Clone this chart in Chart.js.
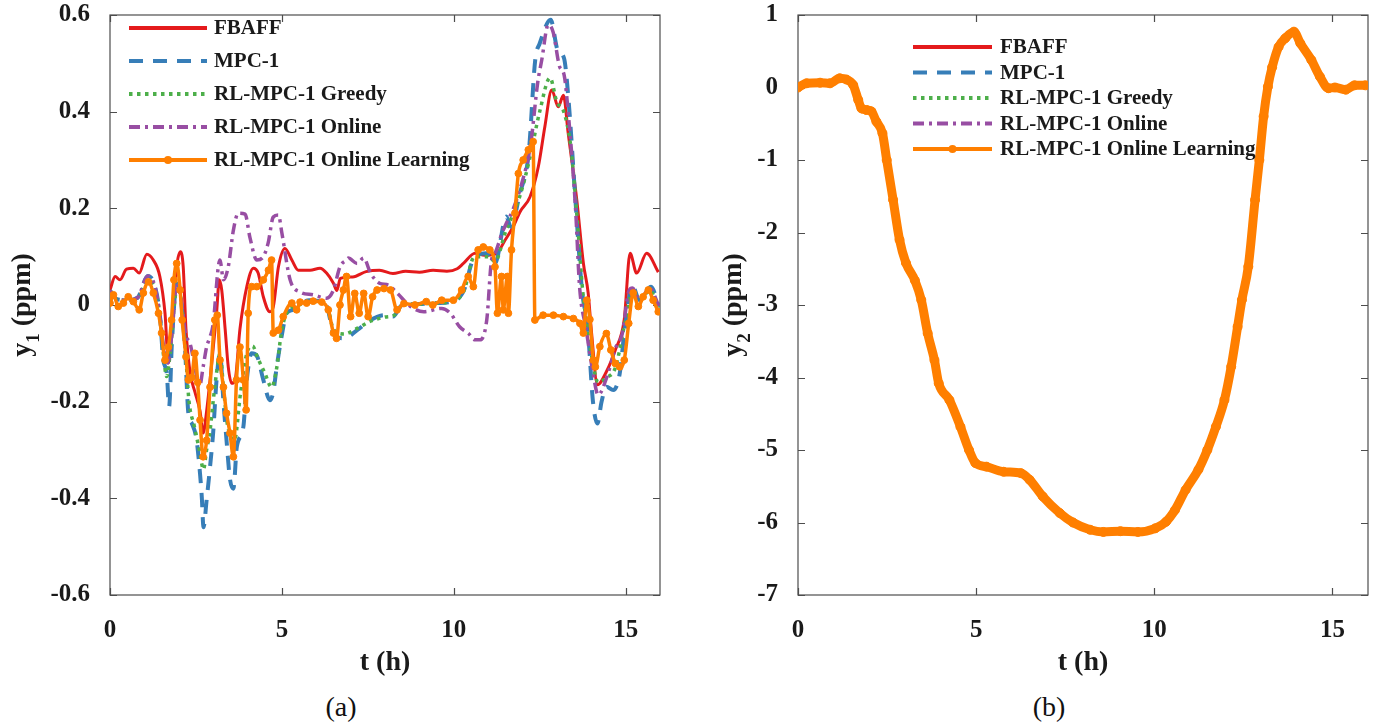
<!DOCTYPE html>
<html>
<head>
<meta charset="utf-8">
<title>y1 / y2 response</title>
<script src="https://cdn.jsdelivr.net/npm/chart.js@4.4.1/dist/chart.umd.min.js"></script>
<style>
  html, body { margin: 0; padding: 0; background: #fff; }
  body { width: 1383px; height: 725px; position: relative; overflow: hidden; font-family: "Liberation Serif", "Times New Roman", serif; }
  canvas { position: absolute; top: 0; }
  #chartY1 { left: 0; }
  #chartY2 { left: 690px; }
  .caption { position: absolute; top: 690px; width: 100px; text-align: center; font-size: 28px; line-height: 34px; color: #111; }
</style>
</head>
<body>
<canvas id="chartY1" width="690" height="690"></canvas>
<canvas id="chartY2" width="693" height="690"></canvas>
<div class="caption" style="left:291px">(a)</div>
<div class="caption" style="left:999px">(b)</div>

<script>
  // ---- data ---------------------------------------------------------------
  const seriesNames = ["FBAFF", "MPC-1", "RL-MPC-1 Greedy", "RL-MPC-1 Online", "RL-MPC-1 Online Learning"];
  const tTicks = [0, 5, 10, 15];
  const y1Ticks = [-0.6, -0.4, -0.2, 0, 0.2, 0.4, 0.6];
  const y2Ticks = [-7, -6, -5, -4, -3, -2, -1, 0, 1];

  // y1, FBAFF
  const fbaffT = [0, 0.15, 0.29, 0.48, 0.68, 0.85, 1.07, 1.26, 1.45, 1.6, 1.7, 1.79, 1.94, 2.05, 2.13, 2.21, 2.33, 2.47, 2.62, 2.71, 2.81, 2.96, 3.1, 3.18, 3.25, 3.35, 3.44, 3.54, 3.64, 3.78, 3.98, 4.17, 4.31, 4.46, 4.65, 4.75, 4.9, 5.09, 5.29, 5.48, 5.82, 6.11, 6.3, 6.5, 6.6, 6.7, 7.06, 7.45, 7.84, 8.23, 8.6, 9.0, 9.4, 9.8, 10.1, 10.28, 10.62, 10.9, 11.25, 11.49, 11.73, 11.93, 12.22, 12.46, 12.65, 12.85, 13.04, 13.19, 13.33, 13.58, 13.77, 13.91, 14.01, 14.18, 14.44, 14.7, 14.96, 15.13, 15.32, 15.61, 15.95];
  const fbaffY = [0.031, 0.059, 0.052, 0.074, 0.076, 0.066, 0.105, 0.093, 0.059, -0.017, -0.12, -0.066, 0.079, 0.11, 0.079, -0.05, -0.14, -0.18, -0.22, -0.265, -0.22, -0.12, -0.017, 0.052, 0.031, -0.05, -0.128, -0.162, -0.155, -0.05, 0.038, 0.076, 0.066, 0.017, -0.014, -0.004, 0.079, 0.117, 0.093, 0.072, 0.072, 0.076, 0.066, 0.045, 0.03, 0.055, 0.058, 0.069, 0.072, 0.065, 0.07, 0.068, 0.072, 0.07, 0.075, 0.086, 0.107, 0.103, 0.107, 0.134, 0.162, 0.193, 0.224, 0.286, 0.369, 0.445, 0.41, 0.434, 0.355, 0.217, 0.087, 0.025, -0.058, -0.165, -0.138, -0.093, -0.03, 0.107, 0.066, 0.107, 0.068];

  // y1, MPC-1
  const mpcT = [0, 0.2, 0.5, 0.8, 1.1, 1.3, 1.45, 1.55, 1.65, 1.72, 1.8, 1.94, 2.05, 2.18, 2.28, 2.38, 2.52, 2.62, 2.67, 2.72, 2.81, 2.91, 3.0, 3.1, 3.2, 3.3, 3.39, 3.49, 3.59, 3.69, 3.88, 3.98, 4.12, 4.27, 4.46, 4.65, 4.75, 4.85, 4.99, 5.14, 5.33, 5.5, 5.8, 6.1, 6.3, 6.5, 6.8, 7.19, 7.58, 7.97, 8.23, 8.5, 9.0, 9.5, 10.0, 10.3, 10.56, 10.95, 11.2, 11.53, 11.66, 11.92, 12.18, 12.37, 12.5, 12.82, 13.02, 13.21, 13.34, 13.54, 13.73, 13.9, 14.05, 14.18, 14.3, 14.44, 14.64, 14.83, 14.96, 15.2, 15.4, 15.74, 15.97];
  const mpcY = [0.03, 0.012, 0.01, 0.015, 0.06, 0.04, -0.02, -0.114, -0.14, -0.21, -0.08, 0.045, 0.02, -0.086, -0.224, -0.245, -0.28, -0.35, -0.397, -0.46, -0.404, -0.335, -0.265, -0.155, -0.1, -0.2, -0.28, -0.36, -0.38, -0.293, -0.252, -0.155, -0.1, -0.105, -0.155, -0.197, -0.18, -0.128, -0.066, -0.017, -0.01, 0.0, 0.01, 0.008, 0.0, -0.058, -0.069, -0.052, -0.031, -0.021, -0.024, 0.0, 0.002, 0.004, 0.008, 0.031, 0.093, 0.107, 0.086, 0.183, 0.162, 0.23, 0.314, 0.507, 0.541, 0.59, 0.528, 0.51, 0.424, 0.217, 0.031, -0.05, -0.2, -0.245, -0.2, -0.169, -0.176, -0.141, -0.059, 0.04, 0.01, 0.038, -0.003];

  // y1, RL-MPC-1 Greedy
  const greedyT = [0, 0.2, 0.5, 0.8, 1.1, 1.3, 1.45, 1.55, 1.65, 1.75, 1.94, 2.05, 2.18, 2.3, 2.45, 2.6, 2.72, 2.81, 2.91, 3.0, 3.1, 3.2, 3.3, 3.4, 3.5, 3.62, 3.8, 3.98, 4.15, 4.3, 4.5, 4.7, 4.85, 5.0, 5.2, 5.5, 5.8, 6.1, 6.3, 6.5, 6.8, 7.2, 7.6, 8.0, 8.3, 8.5, 9.0, 9.5, 10.0, 10.3, 10.6, 11.0, 11.2, 11.5, 11.9, 12.2, 12.5, 12.8, 13.0, 13.2, 13.4, 13.6, 13.75, 14.0, 14.2, 14.45, 14.7, 15.0, 15.2, 15.4, 15.7, 15.97];
  const greedyY = [0.03, 0.012, 0.01, 0.015, 0.05, 0.035, -0.02, -0.1, -0.148, -0.1, 0.03, 0.02, -0.08, -0.2, -0.25, -0.3, -0.34, -0.3, -0.26, -0.2, -0.14, -0.1, -0.17, -0.24, -0.27, -0.28, -0.18, -0.1, -0.085, -0.11, -0.14, -0.17, -0.13, -0.05, -0.01, 0.0, 0.008, 0.006, 0.0, -0.05, -0.06, -0.048, -0.033, -0.025, -0.02, 0.0, 0.002, 0.004, 0.008, 0.03, 0.1, 0.1, 0.09, 0.15, 0.22, 0.3, 0.4, 0.47, 0.42, 0.4, 0.33, 0.17, 0.03, -0.1, -0.16, -0.15, -0.13, -0.03, 0.03, 0.01, 0.03, -0.005];

  // y1, RL-MPC-1 Online
  const onlineT = [0, 0.2, 0.5, 0.8, 1.1, 1.3, 1.45, 1.55, 1.68, 1.8, 1.94, 2.05, 2.2, 2.33, 2.45, 2.6, 2.71, 2.81, 2.91, 3.0, 3.15, 3.2, 3.3, 3.44, 3.59, 3.73, 3.93, 4.07, 4.27, 4.46, 4.6, 4.75, 4.9, 5.0, 5.24, 5.53, 5.91, 6.3, 6.5, 6.69, 6.88, 6.93, 7.19, 7.38, 7.58, 7.84, 8.1, 8.36, 8.74, 9.13, 9.65, 9.9, 10.17, 10.43, 10.62, 10.76, 10.96, 11.1, 11.2, 11.4, 11.53, 11.72, 11.98, 12.24, 12.44, 12.56, 12.75, 12.89, 13.08, 13.21, 13.34, 13.54, 13.66, 13.85, 14.05, 14.2, 14.45, 14.7, 14.9, 15.1, 15.2, 15.4, 15.7, 15.97];
  const onlineY = [0.03, 0.012, 0.01, 0.015, 0.06, 0.04, -0.02, -0.08, -0.12, -0.06, 0.04, 0.02, -0.06, -0.08, -0.12, -0.17, -0.128, -0.087, -0.066, -0.04, 0.079, 0.093, 0.052, 0.079, 0.155, 0.19, 0.188, 0.14, 0.093, 0.1, 0.128, 0.182, 0.186, 0.149, 0.052, 0.027, 0.021, 0.014, 0.031, 0.079, 0.093, 0.097, 0.086, 0.097, 0.066, 0.045, 0.041, 0.024, -0.003, -0.014, -0.007, -0.017, -0.045, -0.059, -0.072, -0.072, -0.031, 0.093, 0.107, 0.148, 0.169, 0.197, 0.252, 0.334, 0.459, 0.507, 0.58, 0.565, 0.493, 0.476, 0.39, 0.203, 0.038, -0.05, -0.14, -0.186, -0.15, -0.09, -0.06, 0.03, 0.035, 0.01, 0.035, -0.003];

  // y1, RL-MPC-1 Online Learning
  const learnT = [0, 0.1, 0.24, 0.39, 0.53, 0.68, 0.85, 0.97, 1.12, 1.26, 1.41, 1.5, 1.6, 1.7, 1.79, 1.86, 1.94, 2.04, 2.1, 2.21, 2.28, 2.38, 2.47, 2.55, 2.62, 2.71, 2.81, 2.91, 3.05, 3.12, 3.2, 3.3, 3.39, 3.49, 3.59, 3.68, 3.78, 3.88, 3.96, 4.02, 4.12, 4.27, 4.46, 4.61, 4.7, 4.75, 4.9, 5.04, 5.29, 5.43, 5.53, 5.72, 5.91, 6.16, 6.35, 6.5, 6.59, 6.69, 6.79, 6.88, 7.0, 7.12, 7.25, 7.38, 7.51, 7.64, 7.77, 7.97, 8.16, 8.35, 8.55, 8.87, 9.2, 9.39, 9.65, 9.99, 10.23, 10.42, 10.57, 10.71, 10.86, 11.05, 11.2, 11.27, 11.39, 11.44, 11.56, 11.59, 11.68, 11.78, 11.88, 12.02, 12.17, 12.31, 12.36, 12.6, 12.9, 13.19, 13.48, 13.67, 13.77, 13.87, 13.96, 14.06, 14.12, 14.25, 14.44, 14.57, 14.7, 14.83, 14.96, 15.09, 15.22, 15.37, 15.51, 15.66, 15.8, 15.95];
  const learnY = [0.004, 0.021, -0.003, 0.004, 0.017, 0.007, -0.01, 0.025, 0.048, 0.025, -0.017, -0.058, -0.114, -0.087, -0.031, 0.052, 0.086, 0.031, -0.031, -0.107, -0.155, -0.15, -0.1, -0.16, -0.238, -0.314, -0.28, -0.17, -0.031, -0.021, -0.114, -0.17, -0.224, -0.265, -0.314, -0.155, -0.087, -0.155, -0.217, -0.017, 0.038, 0.038, 0.052, 0.072, 0.093, -0.058, -0.052, -0.024, 0.004, -0.01, 0.006, 0.004, 0.008, 0.006, -0.01, -0.058, -0.069, 0.0, 0.031, 0.059, -0.024, 0.024, -0.017, 0.024, -0.024, 0.017, 0.031, 0.034, 0.031, -0.01, 0.003, 0.0, 0.007, 0.0, 0.01, 0.01, 0.031, 0.059, 0.038, 0.114, 0.12, 0.114, 0.079, -0.017, 0.059, -0.01, 0.059, -0.017, 0.114, 0.19, 0.272, 0.3, 0.321, 0.338, -0.031, -0.021, -0.021, -0.024, -0.028, -0.038, -0.058, 0.01, -0.03, -0.114, -0.128, -0.086, -0.059, -0.093, -0.121, -0.128, -0.114, -0.038, 0.025, -0.003, 0.017, 0.031, 0.01, -0.014];

  // y2 (the five controllers give the same trajectory)
  const y2T = [0, 0.24, 0.62, 0.9, 1.17, 1.36, 1.55, 1.69, 1.78, 1.92, 2.06, 2.2, 2.37, 2.49, 2.67, 2.85, 3.03, 3.28, 3.46, 3.64, 3.83, 3.95, 4.25, 4.56, 4.8, 4.98, 5.29, 5.77, 6.26, 6.5, 6.87, 7.35, 7.72, 8.2, 8.57, 9.05, 9.54, 10.03, 10.33, 10.58, 10.88, 11.24, 11.49, 11.73, 11.97, 12.16, 12.34, 12.46, 12.64, 12.83, 12.95, 13.07, 13.19, 13.31, 13.49, 13.68, 13.92, 14.1, 14.41, 14.65, 14.89, 15.07, 15.38, 15.62, 15.93];
  const y2Y = [0.0, 0.058, 0.066, 0.058, 0.127, 0.11, 0.034, -0.17, -0.287, -0.31, -0.33, -0.47, -0.63, -1.0, -1.55, -2.1, -2.42, -2.66, -2.93, -3.39, -3.76, -4.08, -4.31, -4.68, -5.0, -5.18, -5.23, -5.3, -5.32, -5.41, -5.64, -5.87, -6.0, -6.1, -6.13, -6.12, -6.13, -6.08, -5.99, -5.83, -5.55, -5.27, -5.0, -4.68, -4.31, -3.85, -3.3, -2.93, -2.47, -1.55, -1.0, -0.4, 0.01, 0.28, 0.56, 0.68, 0.77, 0.61, 0.38, 0.15, -0.01, 0.0, -0.03, 0.03, 0.03];

  // ---- look ----------------------------------------------------------------
  const SERIF = '"Liberation Serif", "Times New Roman", serif';
  const INK = "#1a1a1a";
  const FRAME = "#4d4d4d";

  const lineStyles = [
    { borderColor: "#e41a1c", borderWidth: 3, borderDash: [] },
    { borderColor: "#377eb8", borderWidth: 4, borderDash: [14, 10] },
    { borderColor: "#4daf4a", borderWidth: 3.5, borderDash: [3.5, 4.5] },
    { borderColor: "#984ea3", borderWidth: 3.5, borderDash: [11, 5, 3, 5] },
    { borderColor: "#ff7f00", borderWidth: 3, borderDash: [], marker: true },
  ];

  function pairs(ts, vs) {
    return ts.map((t, i) => ({ x: t, y: vs[i] }));
  }

  function makeDatasets(seriesData, orangeWidth, markerRadius) {
    return seriesData.map((points, i) => {
      const s = lineStyles[i];
      return {
        label: seriesNames[i],
        data: points,
        showLine: true,
        borderColor: s.borderColor,
        backgroundColor: s.borderColor,
        borderWidth: s.marker ? orangeWidth : s.borderWidth,
        borderDash: s.borderDash,
        borderJoinStyle: "round",
        cubicInterpolationMode: "monotone",
        pointRadius: s.marker ? markerRadius : 0,
        pointBackgroundColor: s.borderColor,
        pointBorderColor: s.borderColor,
        pointBorderWidth: 1,
        order: seriesData.length - i, // later series paint on top
      };
    });
  }

  // frame with inward ticks on all four sides
  const boxFrame = {
    id: "boxFrame",
    beforeDatasetsDraw(chart) {
      const { ctx, chartArea: a, scales } = chart;
      const len = 7;
      ctx.save();
      ctx.strokeStyle = FRAME;
      ctx.lineWidth = 1.2;
      ctx.setLineDash([]);
      ctx.strokeRect(a.left, a.top, a.right - a.left, a.bottom - a.top);
      ctx.beginPath();
      scales.x.ticks.forEach((tk) => {
        const px = Math.round(scales.x.getPixelForValue(tk.value)) + 0.5;
        ctx.moveTo(px, a.bottom); ctx.lineTo(px, a.bottom - len);
        ctx.moveTo(px, a.top); ctx.lineTo(px, a.top + len);
      });
      scales.y.ticks.forEach((tk) => {
        const py = Math.round(scales.y.getPixelForValue(tk.value)) + 0.5;
        ctx.moveTo(a.left, py); ctx.lineTo(a.left + len, py);
        ctx.moveTo(a.right, py); ctx.lineTo(a.right - len, py);
      });
      ctx.stroke();
      ctx.restore();
    },
  };

  // axis titles: "t (h)" and "y" with a subscript index, rotated
  const axisTitles = {
    id: "axisTitles",
    afterDraw(chart, args, opts) {
      const { ctx, chartArea: a } = chart;
      const main = "bold 28px " + SERIF;
      const sub = "bold 19px " + SERIF;
      ctx.save();
      ctx.fillStyle = INK;
      ctx.textBaseline = "alphabetic";
      ctx.font = main;
      ctx.textAlign = "center";
      ctx.fillText("t (h)", (a.left + a.right) / 2, opts.xTitleY);

      ctx.textAlign = "left";
      const rest = " (ppm)";
      ctx.font = main;
      const w1 = ctx.measureText("y").width;
      const w3 = ctx.measureText(rest).width;
      ctx.font = sub;
      const w2 = ctx.measureText(opts.index).width;
      const total = w1 + w2 + w3;
      ctx.translate(a.left - opts.yTitleOffset, (a.top + a.bottom) / 2);
      ctx.rotate(-Math.PI / 2);
      let x = -total / 2;
      ctx.font = main;
      ctx.fillText("y", x, 0);
      x += w1;
      ctx.font = sub;
      ctx.fillText(opts.index, x, 9);
      x += w2;
      ctx.font = main;
      ctx.fillText(rest, x, 0);
      ctx.restore();
    },
  };

  // legend drawn inside the axes box
  const insideLegend = {
    id: "insideLegend",
    afterDatasetsDraw(chart, args, opts) {
      const { ctx, chartArea: a } = chart;
      ctx.save();
      ctx.font = "bold 21px " + SERIF;
      ctx.textBaseline = "middle";
      ctx.textAlign = "left";
      chart.data.datasets.forEach((ds, i) => {
        const y = a.top + opts.top + i * opts.rowGap;
        const x0 = a.left + opts.left;
        const x1 = x0 + opts.sampleWidth;
        ctx.strokeStyle = ds.borderColor;
        ctx.lineWidth = 4;
        ctx.setLineDash(ds.borderDash || []);
        ctx.beginPath();
        ctx.moveTo(x0, y);
        ctx.lineTo(x1, y);
        ctx.stroke();
        ctx.setLineDash([]);
        if (ds.pointRadius > 0) {
          ctx.fillStyle = ds.borderColor;
          ctx.beginPath();
          ctx.arc((x0 + x1) / 2, y, 4, 0, Math.PI * 2);
          ctx.fill();
        }
        ctx.fillStyle = INK;
        ctx.fillText(ds.label, x1 + opts.textGap, y + 1);
      });
      ctx.restore();
    },
  };

  function tickFont() {
    return { family: SERIF, size: 25, weight: "bold" };
  }

  function makeScales(yTicks, yMin, yMax, yLabel, yWidth, xHeight) {
    return {
      x: {
        type: "linear",
        min: 0,
        max: 16,
        grid: { display: false },
        border: { display: false },
        afterBuildTicks: (s) => { s.ticks = tTicks.map((v) => ({ value: v })); },
        afterFit: (s) => { s.height = xHeight; s.paddingLeft = 0; s.paddingRight = 0; },
        ticks: { color: INK, font: tickFont(), padding: 13, maxRotation: 0, autoSkip: false },
      },
      y: {
        type: "linear",
        min: yMin,
        max: yMax,
        grid: { display: false },
        border: { display: false },
        afterBuildTicks: (s) => { s.ticks = yTicks.map((v) => ({ value: v })); },
        // tick labels may overhang the box; the layout padding already leaves room
        afterFit: (s) => { s.width = yWidth; s.paddingTop = 0; s.paddingBottom = 0; },
        ticks: { color: INK, font: tickFont(), padding: 12, autoSkip: false, callback: yLabel },
      },
    };
  }

  Chart.defaults.font.family = SERIF;

  new Chart(document.getElementById("chartY1"), {
    type: "scatter",
    data: {
      datasets: makeDatasets(
        [pairs(fbaffT, fbaffY), pairs(mpcT, mpcY), pairs(greedyT, greedyY), pairs(onlineT, onlineY), pairs(learnT, learnY)],
        3.5, 3.4
      ),
    },
    options: {
      responsive: false,
      animation: false,
      layout: { padding: { top: 15, right: 30, left: 0, bottom: 0 } },
      scales: makeScales(y1Ticks, -0.6, 0.6, (v) => (v === 0 ? "0" : v.toFixed(1)), 110, 95),
      plugins: {
        legend: { display: false },
        tooltip: { enabled: false },
        insideLegend: { top: 13, left: 19, rowGap: 33, sampleWidth: 78, textGap: 7 },
        axisTitles: { index: "1", xTitleY: 670, yTitleOffset: 80 },
      },
    },
    plugins: [boxFrame, insideLegend, axisTitles],
  });

  new Chart(document.getElementById("chartY2"), {
    type: "scatter",
    data: {
      datasets: makeDatasets(
        [pairs(y2T, y2Y), pairs(y2T, y2Y), pairs(y2T, y2Y), pairs(y2T, y2Y), pairs(y2T, y2Y)],
        9, 4.5
      ),
    },
    options: {
      responsive: false,
      animation: false,
      layout: { padding: { top: 15, right: 15, left: 0, bottom: 0 } },
      scales: makeScales(y2Ticks, -7, 1, (v) => String(v), 108, 95),
      plugins: {
        legend: { display: false },
        tooltip: { enabled: false },
        insideLegend: { top: 32, left: 115, rowGap: 25.5, sampleWidth: 79, textGap: 8 },
        axisTitles: { index: "2", xTitleY: 670, yTitleOffset: 57 },
      },
    },
    plugins: [boxFrame, insideLegend, axisTitles],
  });
</script>
</body>
</html>
